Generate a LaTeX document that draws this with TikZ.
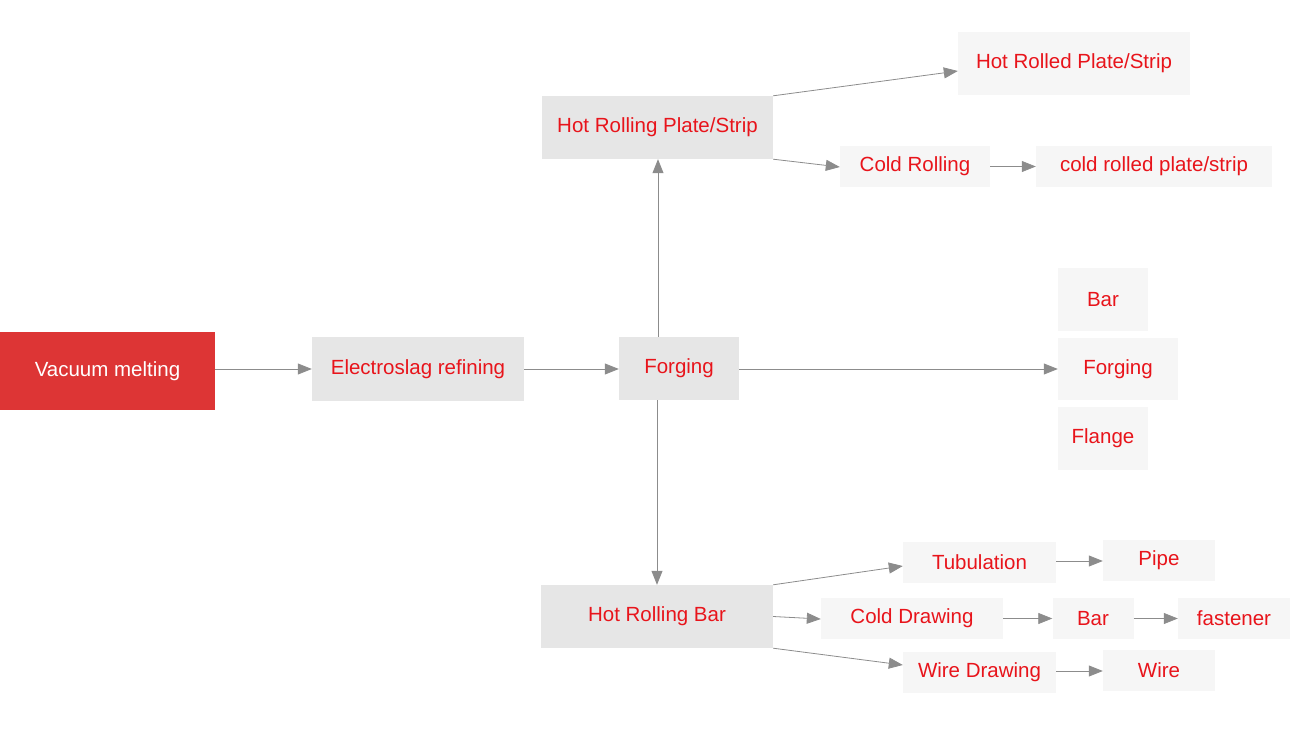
\documentclass[tikz,border=0pt]{standalone}
\usepackage{fontspec}
\setmainfont{Liberation Sans}
\usetikzlibrary{arrows.meta}
\definecolor{boxred}{HTML}{DD3535}
\definecolor{txtred}{HTML}{E8141B}
\definecolor{boxgray}{HTML}{E6E6E6}
\definecolor{boxlight}{HTML}{F6F6F6}
\definecolor{arrgray}{HTML}{8C8C8C}
\begin{document}
\begin{tikzpicture}[x=1pt,y=-1pt,
	box/.style={fill=boxgray,text=txtred,inner sep=0pt,font=\fontsize{20.5}{24}\selectfont},
	lbox/.style={box,fill=boxlight},
	arr/.style={draw=arrgray,line width=0.8pt,-{Triangle[length=14pt,width=11pt]}}]
		\useasboundingbox (0,0) rectangle (1312,742);
		%main line
		\node[box,fill=boxred,text=white,minimum width=215,minimum height=78] (vm) at (107.5,371) {Vacuum melting};
		\node[box,minimum width=212,minimum height=64] (esr) at (418,369) {Electroslag refining};
		\node[box,minimum width=120,minimum height=63] (forg) at (679,368.5) {Forging};

		%plate branch
		\node[box,minimum width=231,minimum height=63] (hrp) at (657.5,127.5) {Hot Rolling Plate/Strip};
		\node[lbox,minimum width=232,minimum height=63] (hrd) at (1074,63.5) {Hot Rolled Plate/Strip};
		\node[lbox,minimum width=150,minimum height=41] (cr) at (915,166.5) {Cold Rolling};
		\node[lbox,minimum width=236,minimum height=41] (crp) at (1154,166.5) {cold rolled plate/strip};

		%forged products
		\node[lbox,minimum width=90,minimum height=63] (bar) at (1103,299.5) {Bar};
		\node[lbox,minimum width=120,minimum height=62] (forgp) at (1118,369) {Forging};
		\node[lbox,minimum width=90,minimum height=63] (flange) at (1103,438.5) {Flange};

		%bar branch
		\node[box,minimum width=232,minimum height=63] (hrb) at (657,616.5) {Hot Rolling Bar};
		\node[lbox,minimum width=153,minimum height=41] (tub) at (979.5,562.5) {Tubulation};
		\node[lbox,minimum width=112,minimum height=41] (pipe) at (1159,560.5) {Pipe};
		\node[lbox,minimum width=182,minimum height=41] (cd) at (912,618.5) {Cold Drawing};
		\node[lbox,minimum width=81,minimum height=41] (bar2) at (1093,618.5) {Bar};
		\node[lbox,minimum width=112,minimum height=41] (fast) at (1234,618.5) {fastener};
		\node[lbox,minimum width=153,minimum height=41] (wd) at (979.5,672.5) {Wire Drawing};
		\node[lbox,minimum width=112,minimum height=41] (wire) at (1159,670.5) {Wire};

		\draw[arr] (vm.east |- 0,369) -- (esr.west |- 0,369);
		\draw[arr] (esr.east |- 0,369) -- (forg.west |- 0,369);
		\draw[arr] (forg.east |- 0,369) -- (forgp.west |- 0,369);
		\draw[arr] (forg.north -| 658,0) -- (hrp.south -| 658,0);
		\draw[arr] (forg.south -| 657,0) -- (hrb.north -| 657,0);
		\draw[arr] (hrp.north east) -- (hrd.west |- 0,71);
		\draw[arr] (hrp.south east) -- (cr.west |- 0,167);
		\draw[arr] (cr) -- (crp);
		\draw[arr] (hrb.north east) -- (tub.west |- 0,566);
		\draw[arr] (hrb.east) -- (cd.west |- 0,619);
		\draw[arr] (hrb.south east) -- (wd.west |- 0,665);
		\draw[arr] (tub.east |- 0,561) -- (pipe.west |- 0,561);
		\draw[arr] (cd) -- (bar2);
		\draw[arr] (bar2) -- (fast);
		\draw[arr] (wd.east |- 0,671) -- (wire.west |- 0,671);
	\end{tikzpicture}
\end{document}
